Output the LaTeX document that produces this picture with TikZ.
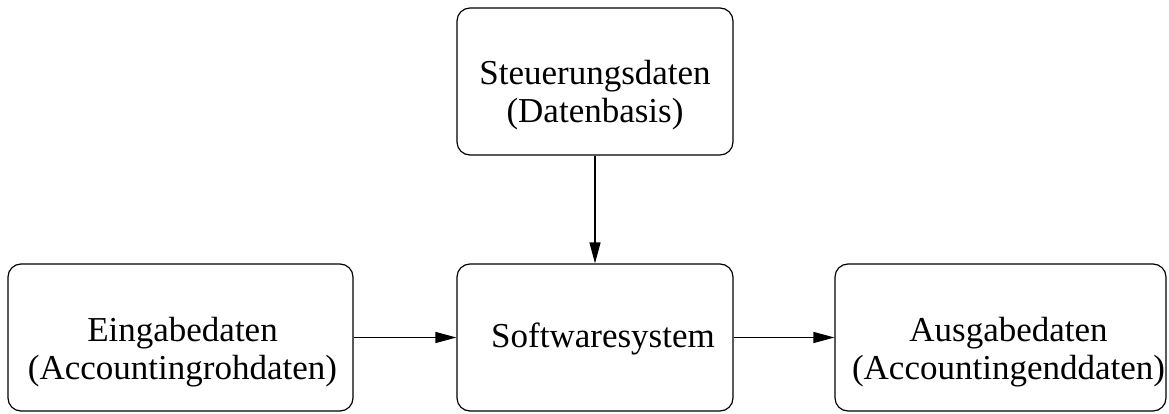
\documentclass[tikz,border=0pt]{standalone}
\usepackage{fontspec}
\setmainfont{Liberation Serif}
\usetikzlibrary{arrows.meta}
% two centred lines; the baseline of the block is that of its first line
\newcommand{\twolines}[2]{\begin{tabular}[t]{@{}c@{}}#1\\#2\end{tabular}}
\begin{document}
\begin{tikzpicture}[x=1pt,y=1pt,
  box/.style={draw, line width=1.2pt, rounded corners=13pt,
    inner sep=0pt, minimum height=147pt},
  txt/.style={inner sep=0pt, anchor=base, font=\fontsize{35}{38}\selectfont},
  flow/.style={line width=1.2pt, -{Triangle[length=21pt,width=11pt]}}]
  \useasboundingbox (0,0) rectangle (1169,413);
  % boxes
  \node[box, minimum width=276pt] (ctrl) at (595,331.5) {};
  \node[box, minimum width=345pt] (in)   at (180.5,75.5) {};
  \node[box, minimum width=276pt] (sys)  at (595,75.5) {};
  \node[box, minimum width=331pt] (out)  at (1000.5,75.5) {};
  % labels
  \node[txt] (ctrl-t) at ([yshift=-3.5pt]ctrl.center) {\twolines{Steuerungsdaten}{(Datenbasis)}};
  \node[txt] (in-t)   at ([xshift=2pt,yshift=-3.5pt]in.center) {\twolines{Eingabedaten}{(Accountingrohdaten)}};
  \node[txt] (sys-t)  at ([xshift=8pt,yshift=-9.5pt]sys.center) {Softwaresystem};
  \node[txt] (out-t)  at ([xshift=8pt,yshift=-3.5pt]out.center) {\twolines{Ausgabedaten}{(Accountingenddaten)}};
  % data flow
  \draw[flow] (ctrl) -- (sys);
  \draw[flow] (in) -- (sys);
  \draw[flow] (sys) -- (out);
\end{tikzpicture}
\end{document}
